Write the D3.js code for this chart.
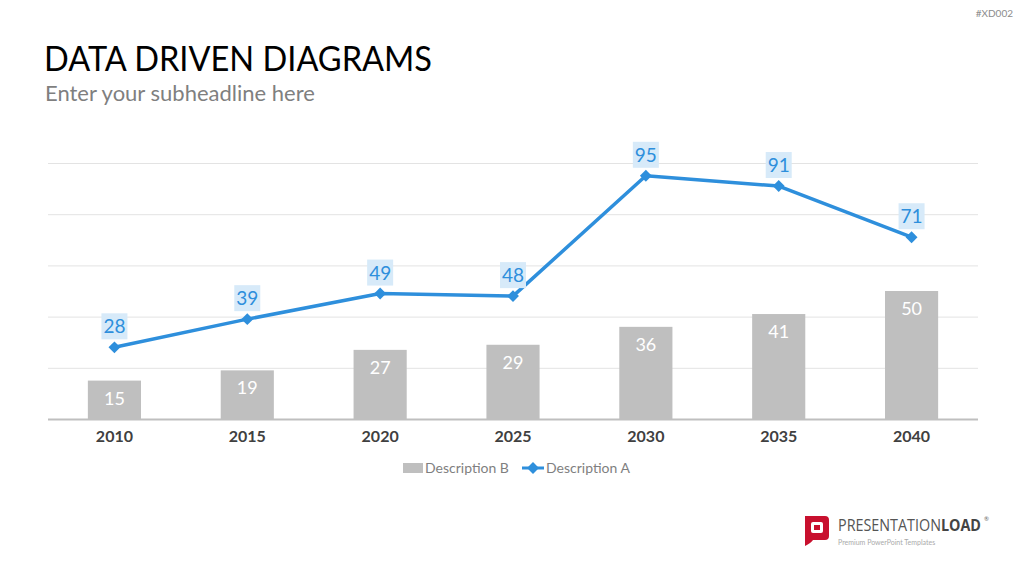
<!DOCTYPE html>
<html>
<head>
<meta charset="utf-8">
<script src="https://cdn.jsdelivr.net/npm/d3@7"></script>
<style>
  body { margin: 0; background: #fff; }
  svg { display: block; font-family: Lato, "Open Sans", sans-serif; }
</style>
</head>
<body>
<svg id="chart" width="1024" height="576"></svg>
<script>
var years = ["2010", "2015", "2020", "2025", "2030", "2035", "2040"]
var descB = [15, 19, 27, 29, 36, 41, 50]
var descA = [28, 39, 49, 48, 95, 91, 71]
var yTicks = [0, 20, 40, 60, 80, 100]

var svg = d3.select("#chart")

var x = d3.scaleBand().domain(years).range([48, 978]).paddingInner(0.6).paddingOuter(0.3)
var xc = d => x(d) + x.bandwidth() / 2
var y = d3.scaleLinear().domain([0, 100]).range([419, 163])

// header
svg.append("text").attr("x", 44).attr("y", 71)
  .attr("font-size", 35).attr("fill", "#000")
  .attr("textLength", 388).attr("lengthAdjust", "spacingAndGlyphs")
  .text("DATA DRIVEN DIAGRAMS")
svg.append("text").attr("x", 45).attr("y", 101)
  .attr("font-size", 22).attr("fill", "#7f7f7f").text("Enter your subheadline here")
svg.append("text").attr("x", 1013).attr("y", 17).attr("text-anchor", "end")
  .attr("font-size", 10).attr("fill", "#8c8c8c").text("#XD002")

// gridlines
svg.append("g")
  .attr("transform", "translate(48,0)")
  .call(d3.axisLeft(y).tickValues(yTicks.slice(1)).tickSize(-930).tickFormat(""))
  .call(g => g.select(".domain").remove())
  .call(g => g.selectAll(".tick line").attr("stroke", "#e3e3e3").attr("stroke-width", 1))

// bars
svg.append("g").selectAll("rect").data(descB).join("rect")
  .attr("x", (d, i) => x(years[i]))
  .attr("y", d => y(d))
  .attr("width", x.bandwidth())
  .attr("height", d => y(0) - y(d))
  .attr("fill", "#bfbfbf")

svg.append("g").selectAll("text").data(descB).join("text")
  .attr("x", (d, i) => xc(years[i]))
  .attr("y", d => y(d) + 24)
  .attr("text-anchor", "middle")
  .attr("font-size", 18).attr("fill", "#fff")
  .text(d => d)

// x axis
var xAxis = svg.append("g")
  .attr("transform", "translate(0,419)")
  .call(d3.axisBottom(x).tickSize(0).tickPadding(12))
xAxis.select(".domain").attr("d", "M48,0.5H978").attr("stroke", "#bfbfbf").attr("stroke-width", 2)
xAxis.selectAll(".tick text")
  .attr("font-family", "Lato, 'Open Sans', sans-serif")
  .attr("font-size", 16).attr("font-weight", "bold").attr("fill", "#404040")

// line
var line = d3.line().x((d, i) => xc(years[i])).y(d => y(d))
svg.append("path").datum(descA)
  .attr("d", line)
  .attr("fill", "none").attr("stroke", "#2e8fdc").attr("stroke-width", 3.5)
  .attr("stroke-linejoin", "round")

var diamond = d3.symbol().type(d3.symbolDiamond2).size(90)
svg.append("g").selectAll("path").data(descA).join("path")
  .attr("transform", (d, i) => `translate(${xc(years[i])},${y(d)})`)
  .attr("d", diamond)
  .attr("fill", "#2e8fdc")

var labels = svg.append("g").selectAll("g").data(descA).join("g")
  .attr("transform", (d, i) => `translate(${xc(years[i])},${y(d) - 21})`)
labels.append("rect")
  .attr("x", -13).attr("y", -13).attr("width", 26).attr("height", 26)
  .attr("fill", "#d7eaf9")
labels.append("text")
  .attr("y", 7).attr("text-anchor", "middle")
  .attr("font-size", 19).attr("fill", "#2e8fdc")
  .text(d => d)

// legend
var legend = svg.append("g").attr("transform", "translate(403,468)")
legend.append("rect").attr("x", 0).attr("y", -5).attr("width", 20).attr("height", 10).attr("fill", "#bfbfbf")
legend.append("text").attr("x", 22).attr("y", 5).attr("font-size", 14).attr("fill", "#7f7f7f").text("Description B")
legend.append("line").attr("x1", 119).attr("x2", 141).attr("y1", 0).attr("y2", 0)
  .attr("stroke", "#2e8fdc").attr("stroke-width", 3)
legend.append("path").attr("transform", "translate(130,0)").attr("d", diamond).attr("fill", "#2e8fdc")
legend.append("text").attr("x", 143).attr("y", 5).attr("font-size", 14).attr("fill", "#7f7f7f").text("Description A")

// logo
var logo = svg.append("g").attr("transform", "translate(803,516)")
logo.append("path")
  .attr("d", "M2,0 H22 Q26,0 26,4 V20 Q26,24 22,24 H10 Q8,27 2,30 Z")
  .attr("fill", "#c8102e")
logo.append("rect").attr("x", 8).attr("y", 6).attr("width", 12).attr("height", 11).attr("rx", 2).attr("fill", "#fff")
logo.append("rect").attr("x", 11).attr("y", 9).attr("width", 6).attr("height", 5).attr("fill", "#c8102e")
var brand = logo.append("text").attr("x", 35).attr("y", 15).attr("font-size", 15.5).attr("fill", "#555")
  .attr("font-family", "'Open Sans', sans-serif").attr("textLength", 143).attr("lengthAdjust", "spacingAndGlyphs")
brand.append("tspan").text("PRESENTATION")
brand.append("tspan").attr("font-weight", "bold").attr("fill", "#444").text("LOAD")
logo.append("text").attr("x", 181).attr("y", 5).attr("font-size", 6).attr("fill", "#666").text("®")
logo.append("text").attr("x", 35).attr("y", 29).attr("font-size", 7).attr("fill", "#aaa").text("Premium PowerPoint Templates")
</script>
</body>
</html>
